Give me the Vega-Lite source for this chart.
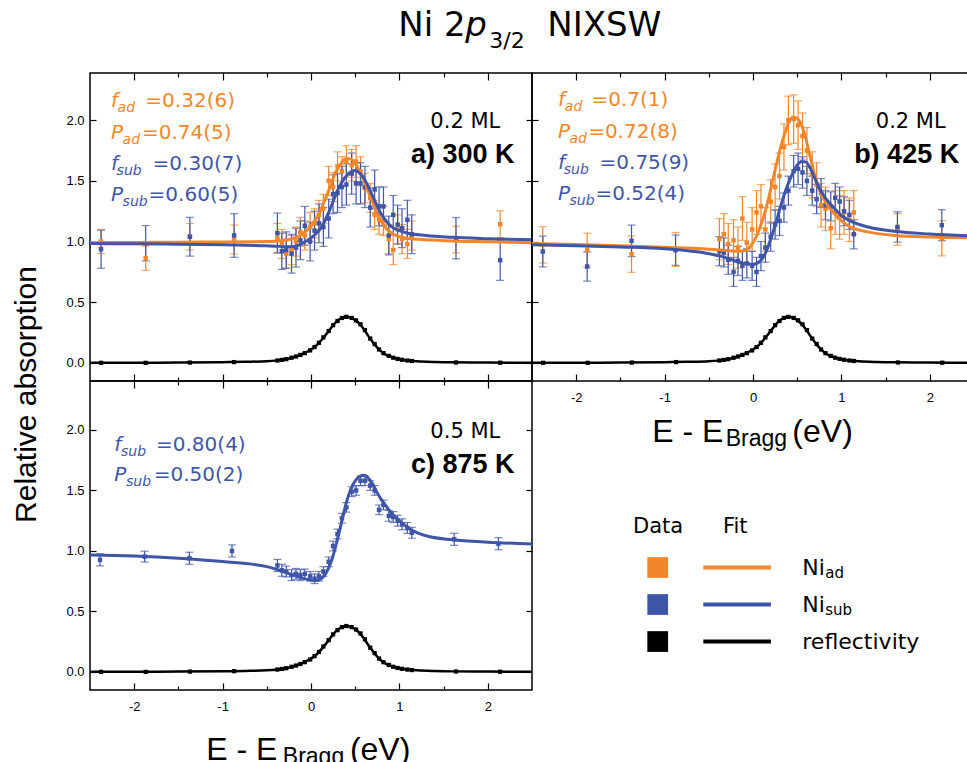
{
"$schema": "https://vega.github.io/schema/vega-lite/v6.json",
"usermeta": {"embedOptions": {"actions": false}},
"padding": {"left": 10, "top": 8, "right": 0, "bottom": 0},
"config": {"font": "Liberation Sans", "view": {"stroke": "#000000", "strokeWidth": 1.5}},
"columns": 2,
"spacing": 0,
"bounds": "flush",
"datasets": {
"refl_fit": [
{"x":-2.5,"y":0},{"x":-2,"y":0.001},{"x":-1.5,"y":0.002},{"x":-1,"y":0.005},{"x":-0.75,"y":0.008},{"x":-0.5,"y":0.013},{"x":-0.4,"y":0.018},{"x":-0.3,"y":0.027},{"x":-0.2,"y":0.045},{"x":-0.1,"y":0.072},{"x":0,"y":0.11},{"x":0.05,"y":0.135},{"x":0.1,"y":0.172},{"x":0.15,"y":0.215},{"x":0.2,"y":0.262},{"x":0.25,"y":0.31},{"x":0.3,"y":0.347},{"x":0.35,"y":0.37},{"x":0.4,"y":0.379},{"x":0.45,"y":0.372},{"x":0.5,"y":0.352},{"x":0.55,"y":0.32},{"x":0.6,"y":0.275},{"x":0.65,"y":0.22},{"x":0.7,"y":0.17},{"x":0.75,"y":0.125},{"x":0.8,"y":0.09},{"x":0.85,"y":0.066},{"x":0.9,"y":0.05},{"x":0.95,"y":0.039},{"x":1,"y":0.03},{"x":1.1,"y":0.019},{"x":1.2,"y":0.013},{"x":1.4,"y":0.007},{"x":1.6,"y":0.004},{"x":2,"y":0.002},{"x":2.5,"y":0.001}
],
"refl_pts": [
{"x":-2.375,"y":0},{"x":-1.87,"y":0},{"x":-1.37,"y":0.002},{"x":-0.87,"y":0.006},
{"x":-0.38,"y":0.019},{"x":-0.33,"y":0.024},{"x":-0.28,"y":0.03},{"x":-0.22,"y":0.042},{"x":-0.17,"y":0.052},{"x":-0.12,"y":0.065},{"x":-0.07,"y":0.08},{"x":-0.01,"y":0.102},{"x":0.04,"y":0.13},{"x":0.09,"y":0.165},{"x":0.14,"y":0.21},{"x":0.2,"y":0.262},{"x":0.25,"y":0.31},{"x":0.3,"y":0.345},{"x":0.35,"y":0.37},{"x":0.4,"y":0.379},{"x":0.46,"y":0.37},{"x":0.51,"y":0.35},{"x":0.56,"y":0.318},{"x":0.61,"y":0.27},{"x":0.67,"y":0.2},{"x":0.72,"y":0.155},{"x":0.77,"y":0.11},{"x":0.82,"y":0.08},{"x":0.88,"y":0.057},{"x":0.93,"y":0.042},{"x":0.98,"y":0.032},{"x":1.03,"y":0.025},{"x":1.09,"y":0.019},{"x":1.14,"y":0.015},
{"x":1.64,"y":0.003},{"x":2.14,"y":0.001}
],
"fits": [
{"panel":"a","series":"ad","x":-2.5,"y":0.99},{"panel":"a","series":"ad","x":-2,"y":0.993},{"panel":"a","series":"ad","x":-1.5,"y":0.995},{"panel":"a","series":"ad","x":-1,"y":0.997},{"panel":"a","series":"ad","x":-0.5,"y":1.0},{"panel":"a","series":"ad","x":-0.4,"y":1.002},{"panel":"a","series":"ad","x":-0.3,"y":1.01},{"panel":"a","series":"ad","x":-0.2,"y":1.025},{"panel":"a","series":"ad","x":-0.1,"y":1.06},{"panel":"a","series":"ad","x":0,"y":1.13},{"panel":"a","series":"ad","x":0.05,"y":1.18},{"panel":"a","series":"ad","x":0.1,"y":1.24},{"panel":"a","series":"ad","x":0.15,"y":1.33},{"panel":"a","series":"ad","x":0.2,"y":1.42},{"panel":"a","series":"ad","x":0.25,"y":1.52},{"panel":"a","series":"ad","x":0.3,"y":1.6},{"panel":"a","series":"ad","x":0.35,"y":1.655},{"panel":"a","series":"ad","x":0.4,"y":1.685},{"panel":"a","series":"ad","x":0.45,"y":1.68},{"panel":"a","series":"ad","x":0.5,"y":1.645},{"panel":"a","series":"ad","x":0.55,"y":1.58},{"panel":"a","series":"ad","x":0.6,"y":1.5},{"panel":"a","series":"ad","x":0.65,"y":1.41},{"panel":"a","series":"ad","x":0.7,"y":1.32},{"panel":"a","series":"ad","x":0.75,"y":1.23},{"panel":"a","series":"ad","x":0.8,"y":1.16},{"panel":"a","series":"ad","x":0.85,"y":1.11},{"panel":"a","series":"ad","x":0.9,"y":1.075},{"panel":"a","series":"ad","x":1,"y":1.04},{"panel":"a","series":"ad","x":1.1,"y":1.025},{"panel":"a","series":"ad","x":1.3,"y":1.015},{"panel":"a","series":"ad","x":1.6,"y":1.005},{"panel":"a","series":"ad","x":2,"y":0.998},{"panel":"a","series":"ad","x":2.5,"y":0.99},
{"panel":"a","series":"sub","x":-2.5,"y":0.983},{"panel":"a","series":"sub","x":-2,"y":0.981},{"panel":"a","series":"sub","x":-1.5,"y":0.978},{"panel":"a","series":"sub","x":-1,"y":0.973},{"panel":"a","series":"sub","x":-0.5,"y":0.965},{"panel":"a","series":"sub","x":-0.4,"y":0.962},{"panel":"a","series":"sub","x":-0.3,"y":0.958},{"panel":"a","series":"sub","x":-0.2,"y":0.96},{"panel":"a","series":"sub","x":-0.1,"y":0.985},{"panel":"a","series":"sub","x":0,"y":1.03},{"panel":"a","series":"sub","x":0.05,"y":1.06},{"panel":"a","series":"sub","x":0.1,"y":1.1},{"panel":"a","series":"sub","x":0.15,"y":1.16},{"panel":"a","series":"sub","x":0.2,"y":1.24},{"panel":"a","series":"sub","x":0.25,"y":1.33},{"panel":"a","series":"sub","x":0.3,"y":1.42},{"panel":"a","series":"sub","x":0.35,"y":1.49},{"panel":"a","series":"sub","x":0.4,"y":1.54},{"panel":"a","series":"sub","x":0.45,"y":1.575},{"panel":"a","series":"sub","x":0.5,"y":1.585},{"panel":"a","series":"sub","x":0.55,"y":1.565},{"panel":"a","series":"sub","x":0.6,"y":1.52},{"panel":"a","series":"sub","x":0.65,"y":1.45},{"panel":"a","series":"sub","x":0.7,"y":1.37},{"panel":"a","series":"sub","x":0.75,"y":1.29},{"panel":"a","series":"sub","x":0.8,"y":1.22},{"panel":"a","series":"sub","x":0.85,"y":1.17},{"panel":"a","series":"sub","x":0.9,"y":1.13},{"panel":"a","series":"sub","x":1,"y":1.09},{"panel":"a","series":"sub","x":1.1,"y":1.068},{"panel":"a","series":"sub","x":1.3,"y":1.05},{"panel":"a","series":"sub","x":1.6,"y":1.035},{"panel":"a","series":"sub","x":2,"y":1.024},{"panel":"a","series":"sub","x":2.5,"y":1.014},
{"panel":"b","series":"ad","x":-2.5,"y":0.984},{"panel":"b","series":"ad","x":-2,"y":0.975},{"panel":"b","series":"ad","x":-1.5,"y":0.965},{"panel":"b","series":"ad","x":-1,"y":0.952},{"panel":"b","series":"ad","x":-0.5,"y":0.937},{"panel":"b","series":"ad","x":-0.4,"y":0.932},{"panel":"b","series":"ad","x":-0.3,"y":0.926},{"panel":"b","series":"ad","x":-0.2,"y":0.92},{"panel":"b","series":"ad","x":-0.1,"y":0.925},{"panel":"b","series":"ad","x":-0.05,"y":0.945},{"panel":"b","series":"ad","x":0,"y":0.99},{"panel":"b","series":"ad","x":0.05,"y":1.06},{"panel":"b","series":"ad","x":0.1,"y":1.16},{"panel":"b","series":"ad","x":0.15,"y":1.28},{"panel":"b","series":"ad","x":0.2,"y":1.43},{"panel":"b","series":"ad","x":0.25,"y":1.59},{"panel":"b","series":"ad","x":0.3,"y":1.74},{"panel":"b","series":"ad","x":0.35,"y":1.87},{"panel":"b","series":"ad","x":0.4,"y":1.975},{"panel":"b","series":"ad","x":0.45,"y":2.025},{"panel":"b","series":"ad","x":0.5,"y":2.015},{"panel":"b","series":"ad","x":0.55,"y":1.96},{"panel":"b","series":"ad","x":0.6,"y":1.84},{"panel":"b","series":"ad","x":0.65,"y":1.69},{"panel":"b","series":"ad","x":0.7,"y":1.54},{"panel":"b","series":"ad","x":0.75,"y":1.43},{"panel":"b","series":"ad","x":0.8,"y":1.35},{"panel":"b","series":"ad","x":0.85,"y":1.29},{"panel":"b","series":"ad","x":0.9,"y":1.245},{"panel":"b","series":"ad","x":1,"y":1.17},{"panel":"b","series":"ad","x":1.1,"y":1.12},{"panel":"b","series":"ad","x":1.3,"y":1.08},{"panel":"b","series":"ad","x":1.6,"y":1.05},{"panel":"b","series":"ad","x":2,"y":1.037},{"panel":"b","series":"ad","x":2.5,"y":1.03},
{"panel":"b","series":"sub","x":-2.5,"y":0.973},{"panel":"b","series":"sub","x":-2,"y":0.965},{"panel":"b","series":"sub","x":-1.5,"y":0.955},{"panel":"b","series":"sub","x":-1,"y":0.94},{"panel":"b","series":"sub","x":-0.5,"y":0.9},{"panel":"b","series":"sub","x":-0.4,"y":0.885},{"panel":"b","series":"sub","x":-0.3,"y":0.865},{"panel":"b","series":"sub","x":-0.2,"y":0.84},{"panel":"b","series":"sub","x":-0.1,"y":0.82},{"panel":"b","series":"sub","x":0,"y":0.812},{"panel":"b","series":"sub","x":0.05,"y":0.822},{"panel":"b","series":"sub","x":0.1,"y":0.855},{"panel":"b","series":"sub","x":0.15,"y":0.92},{"panel":"b","series":"sub","x":0.2,"y":1.02},{"panel":"b","series":"sub","x":0.25,"y":1.13},{"panel":"b","series":"sub","x":0.3,"y":1.26},{"panel":"b","series":"sub","x":0.35,"y":1.38},{"panel":"b","series":"sub","x":0.4,"y":1.48},{"panel":"b","series":"sub","x":0.45,"y":1.565},{"panel":"b","series":"sub","x":0.5,"y":1.63},{"panel":"b","series":"sub","x":0.55,"y":1.66},{"panel":"b","series":"sub","x":0.6,"y":1.655},{"panel":"b","series":"sub","x":0.65,"y":1.6},{"panel":"b","series":"sub","x":0.7,"y":1.52},{"panel":"b","series":"sub","x":0.75,"y":1.44},{"panel":"b","series":"sub","x":0.8,"y":1.38},{"panel":"b","series":"sub","x":0.85,"y":1.33},{"panel":"b","series":"sub","x":0.9,"y":1.29},{"panel":"b","series":"sub","x":1,"y":1.215},{"panel":"b","series":"sub","x":1.1,"y":1.17},{"panel":"b","series":"sub","x":1.3,"y":1.12},{"panel":"b","series":"sub","x":1.6,"y":1.085},{"panel":"b","series":"sub","x":2,"y":1.062},{"panel":"b","series":"sub","x":2.5,"y":1.045},
{"panel":"c","series":"sub","x":-2.5,"y":0.967},{"panel":"c","series":"sub","x":-2,"y":0.958},{"panel":"c","series":"sub","x":-1.5,"y":0.94},{"panel":"c","series":"sub","x":-1,"y":0.912},{"panel":"c","series":"sub","x":-0.5,"y":0.87},{"panel":"c","series":"sub","x":-0.4,"y":0.85},{"panel":"c","series":"sub","x":-0.3,"y":0.825},{"panel":"c","series":"sub","x":-0.2,"y":0.8},{"panel":"c","series":"sub","x":-0.1,"y":0.775},{"panel":"c","series":"sub","x":0,"y":0.76},{"panel":"c","series":"sub","x":0.05,"y":0.755},{"panel":"c","series":"sub","x":0.1,"y":0.765},{"panel":"c","series":"sub","x":0.15,"y":0.795},{"panel":"c","series":"sub","x":0.2,"y":0.86},{"panel":"c","series":"sub","x":0.25,"y":0.96},{"panel":"c","series":"sub","x":0.3,"y":1.1},{"panel":"c","series":"sub","x":0.35,"y":1.25},{"panel":"c","series":"sub","x":0.4,"y":1.4},{"panel":"c","series":"sub","x":0.45,"y":1.51},{"panel":"c","series":"sub","x":0.5,"y":1.58},{"panel":"c","series":"sub","x":0.55,"y":1.615},{"panel":"c","series":"sub","x":0.6,"y":1.625},{"panel":"c","series":"sub","x":0.65,"y":1.6},{"panel":"c","series":"sub","x":0.7,"y":1.55},{"panel":"c","series":"sub","x":0.75,"y":1.48},{"panel":"c","series":"sub","x":0.8,"y":1.42},{"panel":"c","series":"sub","x":0.85,"y":1.37},{"panel":"c","series":"sub","x":0.9,"y":1.32},{"panel":"c","series":"sub","x":1,"y":1.25},{"panel":"c","series":"sub","x":1.1,"y":1.19},{"panel":"c","series":"sub","x":1.3,"y":1.125},{"panel":"c","series":"sub","x":1.6,"y":1.092},{"panel":"c","series":"sub","x":2,"y":1.072},{"panel":"c","series":"sub","x":2.5,"y":1.058}
],
"pts": [
{"panel":"a","series":"ad","x":-2.375,"y":1.0,"err":0.1},{"panel":"a","series":"ad","x":-1.87,"y":0.863,"err":0.1},{"panel":"a","series":"ad","x":-1.37,"y":1.04,"err":0.11},{"panel":"a","series":"ad","x":-0.87,"y":1.016,"err":0.12},{"panel":"a","series":"ad","x":1.64,"y":1.016,"err":0.11},{"panel":"a","series":"ad","x":2.14,"y":1.143,"err":0.11},
{"panel":"a","series":"ad","x":-0.38,"y":1.03,"err":0.12},{"panel":"a","series":"ad","x":-0.33,"y":0.98,"err":0.12},{"panel":"a","series":"ad","x":-0.28,"y":0.9,"err":0.12},{"panel":"a","series":"ad","x":-0.22,"y":0.93,"err":0.12},{"panel":"a","series":"ad","x":-0.17,"y":1.0,"err":0.12},{"panel":"a","series":"ad","x":-0.12,"y":1.08,"err":0.12},{"panel":"a","series":"ad","x":-0.07,"y":1.05,"err":0.12},{"panel":"a","series":"ad","x":-0.01,"y":1.12,"err":0.12},{"panel":"a","series":"ad","x":0.04,"y":1.15,"err":0.12},{"panel":"a","series":"ad","x":0.09,"y":1.22,"err":0.12},{"panel":"a","series":"ad","x":0.14,"y":1.27,"err":0.12},{"panel":"a","series":"ad","x":0.2,"y":1.5,"err":0.12},{"panel":"a","series":"ad","x":0.25,"y":1.45,"err":0.12},{"panel":"a","series":"ad","x":0.3,"y":1.62,"err":0.12},{"panel":"a","series":"ad","x":0.35,"y":1.58,"err":0.12},{"panel":"a","series":"ad","x":0.4,"y":1.66,"err":0.13},{"panel":"a","series":"ad","x":0.46,"y":1.63,"err":0.13},{"panel":"a","series":"ad","x":0.51,"y":1.66,"err":0.13},{"panel":"a","series":"ad","x":0.56,"y":1.58,"err":0.12},{"panel":"a","series":"ad","x":0.61,"y":1.44,"err":0.12},{"panel":"a","series":"ad","x":0.67,"y":1.36,"err":0.12},{"panel":"a","series":"ad","x":0.72,"y":1.22,"err":0.12},{"panel":"a","series":"ad","x":0.77,"y":1.18,"err":0.12},{"panel":"a","series":"ad","x":0.82,"y":1.17,"err":0.12},{"panel":"a","series":"ad","x":0.88,"y":1.02,"err":0.12},{"panel":"a","series":"ad","x":0.93,"y":0.93,"err":0.12},{"panel":"a","series":"ad","x":0.98,"y":1.1,"err":0.12},{"panel":"a","series":"ad","x":1.03,"y":1.02,"err":0.12},{"panel":"a","series":"ad","x":1.09,"y":0.98,"err":0.12},{"panel":"a","series":"ad","x":1.14,"y":1.05,"err":0.12},
{"panel":"a","series":"sub","x":-2.375,"y":0.937,"err":0.157},{"panel":"a","series":"sub","x":-1.87,"y":0.986,"err":0.146},{"panel":"a","series":"sub","x":-1.37,"y":1.04,"err":0.16},{"panel":"a","series":"sub","x":-0.87,"y":1.05,"err":0.18},{"panel":"a","series":"sub","x":1.64,"y":1.027,"err":0.17},{"panel":"a","series":"sub","x":2.14,"y":0.846,"err":0.166},
{"panel":"a","series":"sub","x":-0.38,"y":1.07,"err":0.165},{"panel":"a","series":"sub","x":-0.33,"y":0.92,"err":0.15},{"panel":"a","series":"sub","x":-0.28,"y":0.93,"err":0.15},{"panel":"a","series":"sub","x":-0.22,"y":0.9,"err":0.16},{"panel":"a","series":"sub","x":-0.17,"y":0.95,"err":0.16},{"panel":"a","series":"sub","x":-0.12,"y":1.01,"err":0.16},{"panel":"a","series":"sub","x":-0.07,"y":1.13,"err":0.16},{"panel":"a","series":"sub","x":-0.01,"y":1.0,"err":0.16},{"panel":"a","series":"sub","x":0.04,"y":1.09,"err":0.16},{"panel":"a","series":"sub","x":0.09,"y":1.15,"err":0.16},{"panel":"a","series":"sub","x":0.14,"y":1.12,"err":0.16},{"panel":"a","series":"sub","x":0.2,"y":1.19,"err":0.16},{"panel":"a","series":"sub","x":0.25,"y":1.39,"err":0.16},{"panel":"a","series":"sub","x":0.3,"y":1.4,"err":0.16},{"panel":"a","series":"sub","x":0.35,"y":1.45,"err":0.17},{"panel":"a","series":"sub","x":0.4,"y":1.47,"err":0.17},{"panel":"a","series":"sub","x":0.46,"y":1.56,"err":0.17},{"panel":"a","series":"sub","x":0.51,"y":1.48,"err":0.17},{"panel":"a","series":"sub","x":0.56,"y":1.48,"err":0.17},{"panel":"a","series":"sub","x":0.61,"y":1.45,"err":0.17},{"panel":"a","series":"sub","x":0.67,"y":1.28,"err":0.16},{"panel":"a","series":"sub","x":0.72,"y":1.43,"err":0.16},{"panel":"a","series":"sub","x":0.77,"y":1.29,"err":0.16},{"panel":"a","series":"sub","x":0.82,"y":1.29,"err":0.16},{"panel":"a","series":"sub","x":0.88,"y":1.05,"err":0.16},{"panel":"a","series":"sub","x":0.93,"y":1.22,"err":0.16},{"panel":"a","series":"sub","x":0.98,"y":1.14,"err":0.16},{"panel":"a","series":"sub","x":1.03,"y":1.11,"err":0.16},{"panel":"a","series":"sub","x":1.09,"y":1.18,"err":0.16},{"panel":"a","series":"sub","x":1.14,"y":1.06,"err":0.16},
{"panel":"b","series":"ad","x":-2.378,"y":0.973,"err":0.15},{"panel":"b","series":"ad","x":-1.876,"y":0.929,"err":0.14},{"panel":"b","series":"ad","x":-1.374,"y":0.896,"err":0.15},{"panel":"b","series":"ad","x":-0.876,"y":0.935,"err":0.14},{"panel":"b","series":"ad","x":1.634,"y":1.1,"err":0.13},{"panel":"b","series":"ad","x":2.136,"y":1.027,"err":0.145},
{"panel":"b","series":"ad","x":-0.38,"y":1.02,"err":0.17},{"panel":"b","series":"ad","x":-0.33,"y":1.06,"err":0.17},{"panel":"b","series":"ad","x":-0.28,"y":0.98,"err":0.17},{"panel":"b","series":"ad","x":-0.22,"y":1.01,"err":0.17},{"panel":"b","series":"ad","x":-0.17,"y":0.95,"err":0.17},{"panel":"b","series":"ad","x":-0.12,"y":1.19,"err":0.18},{"panel":"b","series":"ad","x":-0.07,"y":0.99,"err":0.17},{"panel":"b","series":"ad","x":-0.01,"y":1.1,"err":0.18},{"panel":"b","series":"ad","x":0.04,"y":1.24,"err":0.18},{"panel":"b","series":"ad","x":0.09,"y":1.29,"err":0.18},{"panel":"b","series":"ad","x":0.14,"y":1.1,"err":0.18},{"panel":"b","series":"ad","x":0.2,"y":1.33,"err":0.18},{"panel":"b","series":"ad","x":0.25,"y":1.45,"err":0.19},{"panel":"b","series":"ad","x":0.3,"y":1.54,"err":0.19},{"panel":"b","series":"ad","x":0.35,"y":1.78,"err":0.19},{"panel":"b","series":"ad","x":0.4,"y":2.0,"err":0.2},{"panel":"b","series":"ad","x":0.46,"y":2.01,"err":0.2},{"panel":"b","series":"ad","x":0.51,"y":1.96,"err":0.2},{"panel":"b","series":"ad","x":0.56,"y":1.87,"err":0.19},{"panel":"b","series":"ad","x":0.61,"y":1.75,"err":0.19},{"panel":"b","series":"ad","x":0.67,"y":1.55,"err":0.19},{"panel":"b","series":"ad","x":0.72,"y":1.47,"err":0.18},{"panel":"b","series":"ad","x":0.77,"y":1.3,"err":0.18},{"panel":"b","series":"ad","x":0.82,"y":1.27,"err":0.18},{"panel":"b","series":"ad","x":0.88,"y":1.11,"err":0.17},{"panel":"b","series":"ad","x":0.93,"y":1.24,"err":0.18},{"panel":"b","series":"ad","x":0.98,"y":1.2,"err":0.18},{"panel":"b","series":"ad","x":1.03,"y":1.24,"err":0.18},{"panel":"b","series":"ad","x":1.09,"y":1.18,"err":0.18},{"panel":"b","series":"ad","x":1.14,"y":1.24,"err":0.18},
{"panel":"b","series":"sub","x":-2.378,"y":0.918,"err":0.127},{"panel":"b","series":"sub","x":-1.876,"y":0.794,"err":0.12},{"panel":"b","series":"sub","x":-1.374,"y":1.006,"err":0.13},{"panel":"b","series":"sub","x":-0.876,"y":0.929,"err":0.125},{"panel":"b","series":"sub","x":1.634,"y":1.12,"err":0.125},{"panel":"b","series":"sub","x":2.136,"y":1.135,"err":0.128},
{"panel":"b","series":"sub","x":-0.38,"y":0.92,"err":0.12},{"panel":"b","series":"sub","x":-0.33,"y":0.91,"err":0.12},{"panel":"b","series":"sub","x":-0.28,"y":0.85,"err":0.12},{"panel":"b","series":"sub","x":-0.22,"y":0.75,"err":0.12},{"panel":"b","series":"sub","x":-0.17,"y":0.84,"err":0.12},{"panel":"b","series":"sub","x":-0.12,"y":0.8,"err":0.12},{"panel":"b","series":"sub","x":-0.07,"y":0.82,"err":0.12},{"panel":"b","series":"sub","x":-0.01,"y":0.8,"err":0.12},{"panel":"b","series":"sub","x":0.04,"y":0.75,"err":0.12},{"panel":"b","series":"sub","x":0.09,"y":0.88,"err":0.12},{"panel":"b","series":"sub","x":0.14,"y":0.95,"err":0.12},{"panel":"b","series":"sub","x":0.2,"y":1.04,"err":0.12},{"panel":"b","series":"sub","x":0.25,"y":1.14,"err":0.12},{"panel":"b","series":"sub","x":0.3,"y":1.17,"err":0.12},{"panel":"b","series":"sub","x":0.35,"y":1.28,"err":0.12},{"panel":"b","series":"sub","x":0.4,"y":1.42,"err":0.12},{"panel":"b","series":"sub","x":0.46,"y":1.58,"err":0.13},{"panel":"b","series":"sub","x":0.51,"y":1.6,"err":0.13},{"panel":"b","series":"sub","x":0.56,"y":1.57,"err":0.13},{"panel":"b","series":"sub","x":0.61,"y":1.5,"err":0.12},{"panel":"b","series":"sub","x":0.67,"y":1.42,"err":0.12},{"panel":"b","series":"sub","x":0.72,"y":1.35,"err":0.12},{"panel":"b","series":"sub","x":0.77,"y":1.4,"err":0.12},{"panel":"b","series":"sub","x":0.82,"y":1.3,"err":0.12},{"panel":"b","series":"sub","x":0.88,"y":1.29,"err":0.12},{"panel":"b","series":"sub","x":0.93,"y":1.36,"err":0.12},{"panel":"b","series":"sub","x":0.98,"y":1.33,"err":0.12},{"panel":"b","series":"sub","x":1.03,"y":1.25,"err":0.12},{"panel":"b","series":"sub","x":1.09,"y":1.22,"err":0.12},{"panel":"b","series":"sub","x":1.14,"y":1.06,"err":0.12},
{"panel":"c","series":"sub","x":-2.387,"y":0.926,"err":0.05},{"panel":"c","series":"sub","x":-1.882,"y":0.953,"err":0.045},{"panel":"c","series":"sub","x":-1.376,"y":0.939,"err":0.05},{"panel":"c","series":"sub","x":-0.894,"y":1.0,"err":0.05},{"panel":"c","series":"sub","x":1.62,"y":1.096,"err":0.05},{"panel":"c","series":"sub","x":2.12,"y":1.06,"err":0.05},
{"panel":"c","series":"sub","x":-0.38,"y":0.88,"err":0.05},{"panel":"c","series":"sub","x":-0.33,"y":0.84,"err":0.05},{"panel":"c","series":"sub","x":-0.28,"y":0.83,"err":0.045},{"panel":"c","series":"sub","x":-0.22,"y":0.8,"err":0.045},{"panel":"c","series":"sub","x":-0.17,"y":0.81,"err":0.045},{"panel":"c","series":"sub","x":-0.12,"y":0.8,"err":0.045},{"panel":"c","series":"sub","x":-0.07,"y":0.81,"err":0.04},{"panel":"c","series":"sub","x":-0.01,"y":0.79,"err":0.04},{"panel":"c","series":"sub","x":0.04,"y":0.77,"err":0.04},{"panel":"c","series":"sub","x":0.09,"y":0.79,"err":0.04},{"panel":"c","series":"sub","x":0.14,"y":0.83,"err":0.04},{"panel":"c","series":"sub","x":0.2,"y":0.91,"err":0.04},{"panel":"c","series":"sub","x":0.25,"y":1.04,"err":0.04},{"panel":"c","series":"sub","x":0.3,"y":1.14,"err":0.04},{"panel":"c","series":"sub","x":0.35,"y":1.27,"err":0.04},{"panel":"c","series":"sub","x":0.4,"y":1.36,"err":0.04},{"panel":"c","series":"sub","x":0.46,"y":1.49,"err":0.04},{"panel":"c","series":"sub","x":0.51,"y":1.5,"err":0.04},{"panel":"c","series":"sub","x":0.56,"y":1.58,"err":0.04},{"panel":"c","series":"sub","x":0.61,"y":1.58,"err":0.04},{"panel":"c","series":"sub","x":0.67,"y":1.54,"err":0.04},{"panel":"c","series":"sub","x":0.72,"y":1.5,"err":0.04},{"panel":"c","series":"sub","x":0.77,"y":1.34,"err":0.04},{"panel":"c","series":"sub","x":0.82,"y":1.38,"err":0.04},{"panel":"c","series":"sub","x":0.88,"y":1.29,"err":0.045},{"panel":"c","series":"sub","x":0.93,"y":1.28,"err":0.045},{"panel":"c","series":"sub","x":0.98,"y":1.25,"err":0.045},{"panel":"c","series":"sub","x":1.03,"y":1.22,"err":0.045},{"panel":"c","series":"sub","x":1.09,"y":1.19,"err":0.045},{"panel":"c","series":"sub","x":1.14,"y":1.15,"err":0.045}
],
"notes": [
{"panel":"a","series":"ad","kind":"main","x":-2.262,"y":2.106,"text":"f"},
{"panel":"a","series":"ad","kind":"sub","x":-2.188,"y":2.106,"text":"ad"},
{"panel":"a","series":"ad","kind":"val","x":-1.874,"y":2.106,"text":"=0.32(6)"},
{"panel":"a","series":"ad","kind":"main","x":-2.262,"y":1.849,"text":"P"},
{"panel":"a","series":"ad","kind":"sub","x":-2.131,"y":1.849,"text":"ad"},
{"panel":"a","series":"ad","kind":"val","x":-1.912,"y":1.849,"text":"=0.74(5)"},
{"panel":"a","series":"sub","kind":"main","x":-2.262,"y":1.591,"text":"f"},
{"panel":"a","series":"sub","kind":"sub","x":-2.199,"y":1.591,"text":"sub"},
{"panel":"a","series":"sub","kind":"val","x":-1.792,"y":1.591,"text":"=0.30(7)"},
{"panel":"a","series":"sub","kind":"main","x":-2.262,"y":1.336,"text":"P"},
{"panel":"a","series":"sub","kind":"sub","x":-2.131,"y":1.336,"text":"sub"},
{"panel":"a","series":"sub","kind":"val","x":-1.837,"y":1.336,"text":"=0.60(5)"},
{"panel":"a","series":"refl","kind":"ml","x":1.35,"y":1.94,"text":"0.2 ML"},
{"panel":"a","series":"refl","kind":"lab","x":1.131,"y":1.651,"text":"a) 300 K"},
{"panel":"a","series":"refl","kind":"tt","x":0.988,"y":2.696,"text":"Ni 2"},
{"panel":"a","series":"refl","kind":"tt_it","x":1.745,"y":2.696,"text":"p"},
{"panel":"a","series":"refl","kind":"tt_sub","x":2.017,"y":2.6,"text":"3/2"},
{"panel":"a","series":"refl","kind":"tt","x":2.673,"y":2.696,"text":"NIXSW"},
{"panel":"b","series":"ad","kind":"main","x":-2.205,"y":2.115,"text":"f"},
{"panel":"b","series":"ad","kind":"sub","x":-2.129,"y":2.115,"text":"ad"},
{"panel":"b","series":"ad","kind":"val","x":-1.827,"y":2.115,"text":"=0.7(1)"},
{"panel":"b","series":"ad","kind":"main","x":-2.205,"y":1.855,"text":"P"},
{"panel":"b","series":"ad","kind":"sub","x":-2.076,"y":1.855,"text":"ad"},
{"panel":"b","series":"ad","kind":"val","x":-1.865,"y":1.855,"text":"=0.72(8)"},
{"panel":"b","series":"sub","kind":"main","x":-2.205,"y":1.595,"text":"f"},
{"panel":"b","series":"sub","kind":"sub","x":-2.14,"y":1.595,"text":"sub"},
{"panel":"b","series":"sub","kind":"val","x":-1.736,"y":1.595,"text":"=0.75(9)"},
{"panel":"b","series":"sub","kind":"main","x":-2.205,"y":1.34,"text":"P"},
{"panel":"b","series":"sub","kind":"sub","x":-2.076,"y":1.34,"text":"sub"},
{"panel":"b","series":"sub","kind":"val","x":-1.782,"y":1.34,"text":"=0.52(4)"},
{"panel":"b","series":"refl","kind":"ml","x":1.389,"y":1.94,"text":"0.2 ML"},
{"panel":"b","series":"refl","kind":"lab","x":1.144,"y":1.651,"text":"b) 425 K"},
{"panel":"b","series":"refl","kind":"xt","x":-1.14,"y":-0.65,"text":"E - E"},
{"panel":"b","series":"refl","kind":"xt_sub","x":-0.309,"y":-0.685,"text":"Bragg"},
{"panel":"b","series":"refl","kind":"xt","x":0.445,"y":-0.65,"text":"(eV)"},
{"panel":"c","series":"sub","kind":"main","x":-2.225,"y":1.826,"text":"f"},
{"panel":"c","series":"sub","kind":"sub","x":-2.149,"y":1.826,"text":"sub"},
{"panel":"c","series":"sub","kind":"val","x":-1.753,"y":1.826,"text":"=0.80(4)"},
{"panel":"c","series":"sub","kind":"main","x":-2.225,"y":1.579,"text":"P"},
{"panel":"c","series":"sub","kind":"sub","x":-2.093,"y":1.579,"text":"sub"},
{"panel":"c","series":"sub","kind":"val","x":-1.78,"y":1.579,"text":"=0.50(2)"},
{"panel":"c","series":"refl","kind":"ml","x":1.35,"y":1.937,"text":"0.5 ML"},
{"panel":"c","series":"refl","kind":"lab","x":1.131,"y":1.647,"text":"c) 875 K"},
{"panel":"c","series":"refl","kind":"xt","x":-1.184,"y":-0.73,"text":"E - E"},
{"panel":"c","series":"refl","kind":"xt_sub","x":-0.319,"y":-0.765,"text":"Bragg"},
{"panel":"c","series":"refl","kind":"xt","x":0.44,"y":-0.73,"text":"(eV)"}
],
"legend": [
{"series":"ad","row":0,"label":"Ni","sub":"ad"},
{"series":"sub","row":1,"label":"Ni","sub":"sub"},
{"series":"refl","row":2,"label":"reflectivity","sub":""}
],
"legend_head": [
{"x":22.85,"text":"Data"},
{"x":43.2,"text":"Fit"}
]
},
"concat": [
{
"width": 442, "height": 308,
"encoding": {
"x": {"field":"x","type":"quantitative","scale":{"domain":[-2.5,2.5],"nice":false,"zero":false},"axis":null},
"y": {"field":"y","type":"quantitative","scale":{"domain":[-0.15,2.39],"nice":false,"zero":false},"axis":null}
},
"layer": [
{"data":{"name":"refl_fit"},"mark":{"type":"line","color":"#000000","strokeWidth":2.5,"interpolate":"monotone"},
"encoding":{
"x":{"field":"x","type":"quantitative","scale":{"domain":[-2.5,2.5],"nice":false,"zero":false},"axis":{"orient":"bottom","values":[-2,-1.5,-1,-0.5,0,0.5,1,1.5,2],"tickSize":{"condition":{"test":"datum.value % 1 != 0","value":-4},"value":-7},"tickColor":"#000000","tickWidth":1.2,"domain":false,"grid":false,"labels":false,"title":null}},
"y":{"field":"y","type":"quantitative","scale":{"domain":[-0.15,2.39],"nice":false,"zero":false},"axis":{"orient":"left","values":[0,0.5,1,1.5,2],"format":".1f","tickSize":-6,"tickColor":"#000000","tickWidth":1.2,"domain":false,"grid":false,"labelFont":"Liberation Sans","labelFontSize":13,"labelColor":"#000000","labelPadding":12,"labelOverlap":false,"title":"Relative absorption","titleFont":"Liberation Sans","titleFontSize":30,"titleFontWeight":"normal","titleColor":"#000000","titleX":-55,"titleY":321,"titleAngle":270,"titleAlign":"center","titleBaseline":"alphabetic"}}
}},
{"data":{"name":"refl_pts"},"mark":{"type":"point","shape":"square","filled":true,"color":"#000000","size":18,"opacity":1},
"encoding":{
"x":{"field":"x","type":"quantitative","scale":{"domain":[-2.5,2.5],"nice":false,"zero":false},"axis":{"orient":"top","values":[-2,-1.5,-1,-0.5,0,0.5,1,1.5,2],"tickSize":{"condition":{"test":"datum.value % 1 != 0","value":-4},"value":-7},"tickColor":"#000000","tickWidth":1.2,"domain":false,"grid":false,"labels":false,"title":null}},
"y":{"field":"y","type":"quantitative","scale":{"domain":[-0.15,2.39],"nice":false,"zero":false},"axis":{"orient":"right","values":[0,0.5,1,1.5,2],"tickSize":-6,"tickColor":"#000000","tickWidth":1.2,"domain":false,"grid":false,"labels":false,"title":null}}
}},
{"data":{"name":"pts"},"transform":[{"filter":"datum.panel == 'a'"}],"mark":{"type":"errorbar","ticks":{"size":8},"thickness":1.2},
"encoding":{"yError":{"field":"err"},"color":{"field":"series","type":"nominal","scale":{"domain":["ad","sub","refl"],"range":["#F4862A","#3F56A8","#000000"]},"legend":null}}},
{"data":{"name":"pts"},"transform":[{"filter":"datum.panel == 'a'"}],"mark":{"type":"point","shape":"square","filled":true,"size":20,"opacity":1},
"encoding":{"color":{"field":"series","type":"nominal","scale":{"domain":["ad","sub","refl"],"range":["#F4862A","#3F56A8","#000000"]},"legend":null}}},
{"data":{"name":"fits"},"transform":[{"filter":"datum.panel == 'a'"}],"mark":{"type":"line","strokeWidth":3,"interpolate":"monotone"},
"encoding":{"color":{"field":"series","type":"nominal","scale":{"domain":["ad","sub","refl"],"range":["#F4862A","#3F56A8","#000000"]},"legend":null}}},
{"data":{"name":"notes"},"transform":[{"filter":"datum.panel == 'a' && datum.kind == 'main'"}],"mark":{"type":"text","font":"DejaVu Sans","fontStyle":"italic","fontSize":20,"align":"left","baseline":"alphabetic"},
"encoding":{"text":{"field":"text"},"color":{"field":"series","type":"nominal","scale":{"domain":["ad","sub","refl"],"range":["#F4862A","#3F56A8","#000000"]},"legend":null}}},
{"data":{"name":"notes"},"transform":[{"filter":"datum.panel == 'a' && datum.kind == 'sub'"}],"mark":{"type":"text","font":"DejaVu Sans","fontStyle":"italic","fontSize":14,"align":"left","baseline":"alphabetic","dy":5},
"encoding":{"text":{"field":"text"},"color":{"field":"series","type":"nominal","scale":{"domain":["ad","sub","refl"],"range":["#F4862A","#3F56A8","#000000"]},"legend":null}}},
{"data":{"name":"notes"},"transform":[{"filter":"datum.panel == 'a' && datum.kind == 'val'"}],"mark":{"type":"text","font":"DejaVu Sans","fontSize":20,"align":"left","baseline":"alphabetic"},
"encoding":{"text":{"field":"text"},"color":{"field":"series","type":"nominal","scale":{"domain":["ad","sub","refl"],"range":["#F4862A","#3F56A8","#000000"]},"legend":null}}},
{"data":{"name":"notes"},"transform":[{"filter":"datum.panel == 'a' && datum.kind == 'ml'"}],"mark":{"type":"text","font":"DejaVu Sans","fontSize":21,"align":"left","baseline":"alphabetic","color":"#000000"},"encoding":{"text":{"field":"text"}}},
{"data":{"name":"notes"},"transform":[{"filter":"datum.panel == 'a' && datum.kind == 'lab'"}],"mark":{"type":"text","font":"Liberation Sans","fontWeight":"bold","fontSize":27,"align":"left","baseline":"alphabetic","color":"#000000"},"encoding":{"text":{"field":"text"}}},
{"data":{"name":"notes"},"transform":[{"filter":"datum.panel == 'a' && datum.kind == 'tt'"}],"mark":{"type":"text","font":"DejaVu Sans","fontSize":34,"align":"left","baseline":"alphabetic","color":"#000000"},"encoding":{"text":{"field":"text"}}},
{"data":{"name":"notes"},"transform":[{"filter":"datum.panel == 'a' && datum.kind == 'tt_it'"}],"mark":{"type":"text","font":"DejaVu Sans","fontStyle":"italic","fontSize":34,"align":"left","baseline":"alphabetic","color":"#000000"},"encoding":{"text":{"field":"text"}}},
{"data":{"name":"notes"},"transform":[{"filter":"datum.panel == 'a' && datum.kind == 'tt_sub'"}],"mark":{"type":"text","font":"DejaVu Sans","fontSize":22,"align":"left","baseline":"alphabetic","color":"#000000"},"encoding":{"text":{"field":"text"}}}
],
"resolve": {"axis": {"x": "independent", "y": "independent"}}
},
{
"width": 442, "height": 308,
"encoding": {
"x": {"field":"x","type":"quantitative","scale":{"domain":[-2.5,2.5],"nice":false,"zero":false},"axis":null},
"y": {"field":"y","type":"quantitative","scale":{"domain":[-0.15,2.39],"nice":false,"zero":false},"axis":null}
},
"layer": [
{"data":{"name":"refl_fit"},"mark":{"type":"line","color":"#000000","strokeWidth":2.5,"interpolate":"monotone"},
"encoding":{
"x":{"field":"x","type":"quantitative","scale":{"domain":[-2.5,2.5],"nice":false,"zero":false},"axis":{"orient":"bottom","values":[-2,-1.5,-1,-0.5,0,0.5,1,1.5,2],"tickSize":{"condition":{"test":"datum.value % 1 != 0","value":-4},"value":-7},"tickColor":"#000000","tickWidth":1.2,"domain":false,"grid":false,"labelExpr":"datum.value % 1 == 0 ? '' + datum.value : ''","labelFont":"Liberation Sans","labelFontSize":13,"labelColor":"#000000","labelPadding":17,"labelOverlap":false,"labelFlush":false,"title":null}},
"y":{"field":"y","type":"quantitative","scale":{"domain":[-0.15,2.39],"nice":false,"zero":false},"axis":{"orient":"left","values":[0,0.5,1,1.5,2],"tickSize":-6,"tickColor":"#000000","tickWidth":1.2,"domain":false,"grid":false,"labels":false,"title":null}}
}},
{"data":{"name":"refl_pts"},"mark":{"type":"point","shape":"square","filled":true,"color":"#000000","size":18,"opacity":1},
"encoding":{
"x":{"field":"x","type":"quantitative","scale":{"domain":[-2.5,2.5],"nice":false,"zero":false},"axis":{"orient":"top","values":[-2,-1.5,-1,-0.5,0,0.5,1,1.5,2],"tickSize":{"condition":{"test":"datum.value % 1 != 0","value":-4},"value":-7},"tickColor":"#000000","tickWidth":1.2,"domain":false,"grid":false,"labels":false,"title":null}},
"y":{"field":"y","type":"quantitative","scale":{"domain":[-0.15,2.39],"nice":false,"zero":false},"axis":{"orient":"right","values":[0,0.5,1,1.5,2],"tickSize":-6,"tickColor":"#000000","tickWidth":1.2,"domain":false,"grid":false,"labels":false,"title":null}}
}},
{"data":{"name":"pts"},"transform":[{"filter":"datum.panel == 'b'"}],"mark":{"type":"errorbar","ticks":{"size":8},"thickness":1.2},
"encoding":{"yError":{"field":"err"},"color":{"field":"series","type":"nominal","scale":{"domain":["ad","sub","refl"],"range":["#F4862A","#3F56A8","#000000"]},"legend":null}}},
{"data":{"name":"pts"},"transform":[{"filter":"datum.panel == 'b'"}],"mark":{"type":"point","shape":"square","filled":true,"size":20,"opacity":1},
"encoding":{"color":{"field":"series","type":"nominal","scale":{"domain":["ad","sub","refl"],"range":["#F4862A","#3F56A8","#000000"]},"legend":null}}},
{"data":{"name":"fits"},"transform":[{"filter":"datum.panel == 'b'"}],"mark":{"type":"line","strokeWidth":3,"interpolate":"monotone"},
"encoding":{"color":{"field":"series","type":"nominal","scale":{"domain":["ad","sub","refl"],"range":["#F4862A","#3F56A8","#000000"]},"legend":null}}},
{"data":{"name":"notes"},"transform":[{"filter":"datum.panel == 'b' && datum.kind == 'main'"}],"mark":{"type":"text","font":"DejaVu Sans","fontStyle":"italic","fontSize":20,"align":"left","baseline":"alphabetic"},
"encoding":{"text":{"field":"text"},"color":{"field":"series","type":"nominal","scale":{"domain":["ad","sub","refl"],"range":["#F4862A","#3F56A8","#000000"]},"legend":null}}},
{"data":{"name":"notes"},"transform":[{"filter":"datum.panel == 'b' && datum.kind == 'sub'"}],"mark":{"type":"text","font":"DejaVu Sans","fontStyle":"italic","fontSize":14,"align":"left","baseline":"alphabetic","dy":5},
"encoding":{"text":{"field":"text"},"color":{"field":"series","type":"nominal","scale":{"domain":["ad","sub","refl"],"range":["#F4862A","#3F56A8","#000000"]},"legend":null}}},
{"data":{"name":"notes"},"transform":[{"filter":"datum.panel == 'b' && datum.kind == 'val'"}],"mark":{"type":"text","font":"DejaVu Sans","fontSize":20,"align":"left","baseline":"alphabetic"},
"encoding":{"text":{"field":"text"},"color":{"field":"series","type":"nominal","scale":{"domain":["ad","sub","refl"],"range":["#F4862A","#3F56A8","#000000"]},"legend":null}}},
{"data":{"name":"notes"},"transform":[{"filter":"datum.panel == 'b' && datum.kind == 'ml'"}],"mark":{"type":"text","font":"DejaVu Sans","fontSize":21,"align":"left","baseline":"alphabetic","color":"#000000"},"encoding":{"text":{"field":"text"}}},
{"data":{"name":"notes"},"transform":[{"filter":"datum.panel == 'b' && datum.kind == 'lab'"}],"mark":{"type":"text","font":"Liberation Sans","fontWeight":"bold","fontSize":27,"align":"left","baseline":"alphabetic","color":"#000000"},"encoding":{"text":{"field":"text"}}},
{"data":{"name":"notes"},"transform":[{"filter":"datum.panel == 'b' && datum.kind == 'xt'"}],"mark":{"type":"text","font":"Liberation Sans","fontSize":32,"align":"left","baseline":"alphabetic","color":"#000000"},"encoding":{"text":{"field":"text"}}},
{"data":{"name":"notes"},"transform":[{"filter":"datum.panel == 'b' && datum.kind == 'xt_sub'"}],"mark":{"type":"text","font":"Liberation Sans","fontSize":23,"align":"left","baseline":"alphabetic","color":"#000000"},"encoding":{"text":{"field":"text"}}}
],
"resolve": {"axis": {"x": "independent", "y": "independent"}}
},
{
"width": 442, "height": 309,
"encoding": {
"x": {"field":"x","type":"quantitative","scale":{"domain":[-2.5,2.5],"nice":false,"zero":false},"axis":null},
"y": {"field":"y","type":"quantitative","scale":{"domain":[-0.15,2.405],"nice":false,"zero":false},"axis":null}
},
"layer": [
{"data":{"name":"refl_fit"},"mark":{"type":"line","color":"#000000","strokeWidth":2.5,"interpolate":"monotone"},
"encoding":{
"x":{"field":"x","type":"quantitative","scale":{"domain":[-2.5,2.5],"nice":false,"zero":false},"axis":{"orient":"bottom","values":[-2,-1.5,-1,-0.5,0,0.5,1,1.5,2],"tickSize":{"condition":{"test":"datum.value % 1 != 0","value":-4},"value":-7},"tickColor":"#000000","tickWidth":1.2,"domain":false,"grid":false,"labelExpr":"datum.value % 1 == 0 ? '' + datum.value : ''","labelFont":"Liberation Sans","labelFontSize":13,"labelColor":"#000000","labelPadding":17,"labelOverlap":false,"labelFlush":false,"title":null}},
"y":{"field":"y","type":"quantitative","scale":{"domain":[-0.15,2.405],"nice":false,"zero":false},"axis":{"orient":"left","values":[0,0.5,1,1.5,2],"format":".1f","tickSize":-6,"tickColor":"#000000","tickWidth":1.2,"domain":false,"grid":false,"labelFont":"Liberation Sans","labelFontSize":13,"labelColor":"#000000","labelPadding":12,"labelOverlap":false,"title":null}}
}},
{"data":{"name":"refl_pts"},"mark":{"type":"point","shape":"square","filled":true,"color":"#000000","size":18,"opacity":1},
"encoding":{
"x":{"field":"x","type":"quantitative","scale":{"domain":[-2.5,2.5],"nice":false,"zero":false},"axis":{"orient":"top","values":[-2,-1.5,-1,-0.5,0,0.5,1,1.5,2],"tickSize":{"condition":{"test":"datum.value % 1 != 0","value":-4},"value":-7},"tickColor":"#000000","tickWidth":1.2,"domain":false,"grid":false,"labels":false,"title":null}},
"y":{"field":"y","type":"quantitative","scale":{"domain":[-0.15,2.405],"nice":false,"zero":false},"axis":{"orient":"right","values":[0,0.5,1,1.5,2],"tickSize":-6,"tickColor":"#000000","tickWidth":1.2,"domain":false,"grid":false,"labels":false,"title":null}}
}},
{"data":{"name":"pts"},"transform":[{"filter":"datum.panel == 'c'"}],"mark":{"type":"errorbar","ticks":{"size":8},"thickness":1.2},
"encoding":{"yError":{"field":"err"},"color":{"field":"series","type":"nominal","scale":{"domain":["ad","sub","refl"],"range":["#F4862A","#3F56A8","#000000"]},"legend":null}}},
{"data":{"name":"pts"},"transform":[{"filter":"datum.panel == 'c'"}],"mark":{"type":"point","shape":"square","filled":true,"size":20,"opacity":1},
"encoding":{"color":{"field":"series","type":"nominal","scale":{"domain":["ad","sub","refl"],"range":["#F4862A","#3F56A8","#000000"]},"legend":null}}},
{"data":{"name":"fits"},"transform":[{"filter":"datum.panel == 'c'"}],"mark":{"type":"line","strokeWidth":3,"interpolate":"monotone"},
"encoding":{"color":{"field":"series","type":"nominal","scale":{"domain":["ad","sub","refl"],"range":["#F4862A","#3F56A8","#000000"]},"legend":null}}},
{"data":{"name":"notes"},"transform":[{"filter":"datum.panel == 'c' && datum.kind == 'main'"}],"mark":{"type":"text","font":"DejaVu Sans","fontStyle":"italic","fontSize":20,"align":"left","baseline":"alphabetic"},
"encoding":{"text":{"field":"text"},"color":{"field":"series","type":"nominal","scale":{"domain":["ad","sub","refl"],"range":["#F4862A","#3F56A8","#000000"]},"legend":null}}},
{"data":{"name":"notes"},"transform":[{"filter":"datum.panel == 'c' && datum.kind == 'sub'"}],"mark":{"type":"text","font":"DejaVu Sans","fontStyle":"italic","fontSize":14,"align":"left","baseline":"alphabetic","dy":5},
"encoding":{"text":{"field":"text"},"color":{"field":"series","type":"nominal","scale":{"domain":["ad","sub","refl"],"range":["#F4862A","#3F56A8","#000000"]},"legend":null}}},
{"data":{"name":"notes"},"transform":[{"filter":"datum.panel == 'c' && datum.kind == 'val'"}],"mark":{"type":"text","font":"DejaVu Sans","fontSize":20,"align":"left","baseline":"alphabetic"},
"encoding":{"text":{"field":"text"},"color":{"field":"series","type":"nominal","scale":{"domain":["ad","sub","refl"],"range":["#F4862A","#3F56A8","#000000"]},"legend":null}}},
{"data":{"name":"notes"},"transform":[{"filter":"datum.panel == 'c' && datum.kind == 'ml'"}],"mark":{"type":"text","font":"DejaVu Sans","fontSize":21,"align":"left","baseline":"alphabetic","color":"#000000"},"encoding":{"text":{"field":"text"}}},
{"data":{"name":"notes"},"transform":[{"filter":"datum.panel == 'c' && datum.kind == 'lab'"}],"mark":{"type":"text","font":"Liberation Sans","fontWeight":"bold","fontSize":27,"align":"left","baseline":"alphabetic","color":"#000000"},"encoding":{"text":{"field":"text"}}},
{"data":{"name":"notes"},"transform":[{"filter":"datum.panel == 'c' && datum.kind == 'xt'"}],"mark":{"type":"text","font":"Liberation Sans","fontSize":32,"align":"left","baseline":"alphabetic","color":"#000000"},"encoding":{"text":{"field":"text"}}},
{"data":{"name":"notes"},"transform":[{"filter":"datum.panel == 'c' && datum.kind == 'xt_sub'"}],"mark":{"type":"text","font":"Liberation Sans","fontSize":23,"align":"left","baseline":"alphabetic","color":"#000000"},"encoding":{"text":{"field":"text"}}}
],
"resolve": {"axis": {"x": "independent", "y": "independent"}}
},
{
"width": 442, "height": 309,
"view": {"stroke": null},
"layer": [
{"data":{"name":"legend"},"mark":{"type":"point","shape":"square","filled":true,"size":430,"opacity":1},
"encoding":{"x":{"datum":28.44,"type":"quantitative","scale":{"domain":[0,100],"nice":false,"zero":false},"axis":null},"y":{"field":"row","type":"quantitative","scale":{"domain":[-5.04,3.31],"reverse":true,"nice":false,"zero":false},"axis":null},"color":{"field":"series","type":"nominal","scale":{"domain":["ad","sub","refl"],"range":["#F4862A","#3F56A8","#000000"]},"legend":null}}},
{"data":{"name":"legend"},"mark":{"type":"rule","strokeWidth":4},
"encoding":{"x":{"datum":38.76,"type":"quantitative","scale":{"domain":[0,100],"nice":false,"zero":false},"axis":null},"x2":{"datum":54.06},"y":{"field":"row","type":"quantitative","scale":{"domain":[-5.04,3.31],"reverse":true,"nice":false,"zero":false},"axis":null},"color":{"field":"series","type":"nominal","scale":{"domain":["ad","sub","refl"],"range":["#F4862A","#3F56A8","#000000"]},"legend":null}}},
{"data":{"name":"legend"},"mark":{"type":"text","font":"DejaVu Sans","fontSize":22,"align":"left","baseline":"alphabetic","dy":7,"color":"#000000"},
"encoding":{"x":{"datum":61.15,"type":"quantitative","scale":{"domain":[0,100],"nice":false,"zero":false},"axis":null},"y":{"field":"row","type":"quantitative","scale":{"domain":[-5.04,3.31],"reverse":true,"nice":false,"zero":false},"axis":null},"text":{"field":"label"}}},
{"data":{"name":"legend"},"mark":{"type":"text","font":"DejaVu Sans","fontSize":15,"align":"left","baseline":"alphabetic","dx":23,"dy":10,"color":"#000000"},
"encoding":{"x":{"datum":61.15,"type":"quantitative","scale":{"domain":[0,100],"nice":false,"zero":false},"axis":null},"y":{"field":"row","type":"quantitative","scale":{"domain":[-5.04,3.31],"reverse":true,"nice":false,"zero":false},"axis":null},"text":{"field":"sub"}}},
{"data":{"name":"legend_head"},"mark":{"type":"text","font":"DejaVu Sans","fontSize":21,"align":"left","baseline":"alphabetic","color":"#000000"},
"encoding":{"x":{"field":"x","type":"quantitative","scale":{"domain":[0,100],"nice":false,"zero":false},"axis":null},"y":{"datum":-0.94,"type":"quantitative","scale":{"domain":[-5.04,3.31],"reverse":true,"nice":false,"zero":false},"axis":null},"text":{"field":"text"}}}
]
}
]
}
